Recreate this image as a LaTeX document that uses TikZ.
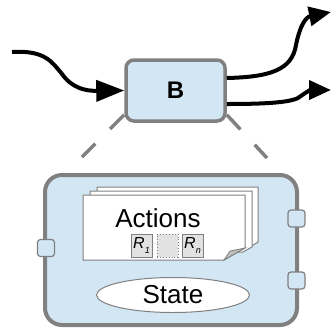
\documentclass[tikz,border=0pt]{standalone}
\usepackage{fontspec}
\setmainfont{Liberation Sans}
\usetikzlibrary{arrows.meta,shapes.geometric}
\definecolor{boxblue}{HTML}{D2E6F4}
\definecolor{edgegray}{HTML}{808080}
\definecolor{rgray}{HTML}{E2E2E2}
\definecolor{foldgray}{HTML}{BDBDBD}
\tikzset{
  blk/.style={draw=edgegray,fill=boxblue,rounded corners=8pt,line width=3.5pt},
  port/.style={draw=edgegray,fill=boxblue,rounded corners=3pt,line width=1.2pt,minimum width=17pt,minimum height=17pt,inner sep=0pt},
  page/.style={draw=edgegray,fill=white,line width=1pt},
  rbox/.style={draw=edgegray,fill=rgray,line width=0.9pt,minimum width=21pt,minimum height=23pt,inner sep=0pt},
  flow/.style={line width=4pt,-{Triangle[length=22pt,width=19pt]}},
  zoomline/.style={draw=edgegray,line width=3.5pt,dash pattern=on 20pt off 21pt}
}
\begin{document}
\begin{tikzpicture}[x=1pt,y=-1pt]
\useasboundingbox (0,0) rectangle (331,327);
% top block
\node[blk,minimum width=99pt,minimum height=61pt,inner sep=0pt] (B) at (175.5,90.5) {\fontsize{24}{28}\selectfont\bfseries B};
% big box
\node[draw=edgegray,fill=boxblue,rounded corners=17pt,line width=4pt,minimum width=252pt,minimum height=150pt,inner sep=0pt] (Big) at (171,250) {};
% zoom lines
\coordinate (zl) at (82,157);
\coordinate (zr) at (267,158);
\draw[zoomline] ([yshift=8pt,xshift=0pt]B.south west) -- (zl);
\draw[zoomline] ([yshift=8pt]B.south east) -- (zr);
% ports
\node[port] (p1) at (46,248) {};
\node[port] (p2) at (296.5,218.5) {};
\node[port] (p3) at (296.5,280.5) {};
% pages
\draw[page] (97,187) -- (258,187) -- (258,242) -- (250,247) -- (97,247) -- cycle;
\draw[page] (90,191) -- (252,191) -- (252,247) -- (243,252) -- (90,252) -- cycle;
\draw[page] (83,195) -- (245,195) -- (245,248) -- (224,260) -- (83,260) -- cycle;
\draw[draw=edgegray,fill=foldgray,line width=0.8pt] (224,260) -- (230,251) -- (245,248) -- cycle;
\node[inner sep=0pt] (act) at (158,218) {\fontsize{26}{30}\selectfont Actions};
\node[rbox] (r1) at (141.5,245.5) {\fontsize{16}{18}\selectfont\itshape R\raisebox{-5pt}{\fontsize{9}{10}\selectfont 1}};
\node[rbox,dotted] (rm) at (167.5,245.5) {};
\node[rbox] (rn) at (192.5,245.5) {\fontsize{16}{18}\selectfont\itshape R\raisebox{-5pt}{\fontsize{9}{10}\selectfont n}};
% state
\node[ellipse,draw=edgegray,fill=white,line width=1pt,minimum width=153pt,minimum height=35pt,inner sep=0pt] (st) at (173,295) {\fontsize{26}{30}\selectfont State};
% arrows
\coordinate (in) at (12,52);
\coordinate (o1) at (331,12);
\coordinate (o2) at (331,90);
\draw[line width=4pt,-{Triangle[length=28pt,width=21pt]}] (in) .. controls (45,50) and (52,62) .. (62,74) .. controls (72,88) and (85,91) .. (B.west);
\draw[flow] ([yshift=12.5pt]B.east) .. controls (270,77) and (292,70) .. (296,45) .. controls (300,25) and (306,17) .. (o1);
\draw[flow] ([yshift=-13.5pt]B.east) .. controls (260,104) and (288,103) .. (298,98) .. controls (305,93) and (310,90) .. (o2);
\end{tikzpicture}
\end{document}
